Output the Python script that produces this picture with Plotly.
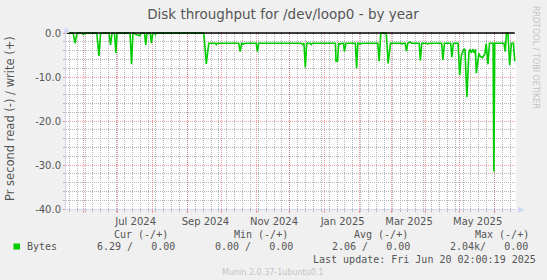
import plotly.graph_objects as go
import pandas as pd

# ---------------- data ----------------
title = "Disk throughput for /dev/loop0 - by year"
y_label = "Pr second read (-) / write (+)"

dates = [
    "2024-05-17", "2024-05-22 12:00", "2024-05-24", "2024-05-26", "2024-05-30",
    "2024-05-31 12:00", "2024-06-02", "2024-06-12 12:00", "2024-06-14 08:00", "2024-06-15 20:00",
    "2024-06-23 08:00", "2024-06-24 16:00", "2024-06-26", "2024-06-28 04:00", "2024-06-29 10:00",
    "2024-06-30 10:00", "2024-07-12", "2024-07-13 08:00", "2024-07-14 14:00", "2024-07-16",
    "2024-07-16 20:00", "2024-07-19 12:00", "2024-07-20 14:00", "2024-07-21 20:00", "2024-07-24 20:00",
    "2024-07-26", "2024-07-27", "2024-07-30", "2024-07-31", "2024-08-01 05:00",
    "2024-08-03", "2024-08-03 14:00", "2024-08-04 12:00", "2024-09-15 14:00", "2024-09-17 19:00",
    "2024-09-20", "2024-09-25 19:00", "2024-09-26 14:00", "2024-09-27 12:00", "2024-10-16 14:00",
    "2024-10-17 22:00", "2024-10-19 05:00", "2024-10-20 14:00", "2024-10-22", "2024-11-01 02:00",
    "2024-11-02 07:00", "2024-11-03 07:00", "2024-12-11", "2024-12-12 07:00", "2024-12-13 14:00",
    "2024-12-14 19:00", "2024-12-16 02:00", "2024-12-19 05:00", "2024-12-20 02:00", "2024-12-21 05:00",
    "2025-01-10 14:00", "2025-01-11 02:00", "2025-01-12 10:00", "2025-01-13 12:00", "2025-01-14 14:00",
    "2025-01-15 22:00", "2025-01-17 17:00", "2025-01-18 14:00", "2025-01-19 22:00", "2025-01-28 07:00",
    "2025-01-29 10:00", "2025-01-30 12:00", "2025-02-01 17:00", "2025-02-03", "2025-02-17 07:00",
    "2025-02-18 10:00", "2025-02-19 22:00", "2025-02-24 19:00", "2025-02-26 10:00", "2025-02-28 12:00",
    "2025-03-10", "2025-03-11", "2025-03-12", "2025-03-13 14:00", "2025-03-14 17:00",
    "2025-03-15 22:00", "2025-03-18", "2025-03-19 07:00", "2025-03-26", "2025-03-27 02:00",
    "2025-03-28 07:00", "2025-04-01 12:00", "2025-04-02 14:00", "2025-04-04", "2025-04-15",
    "2025-04-16 02:00", "2025-04-17 12:00", "2025-04-23", "2025-04-24 02:00", "2025-04-25 10:00",
    "2025-04-29 14:00", "2025-05-01", "2025-05-02 12:00", "2025-05-04 12:00", "2025-05-05 17:00",
    "2025-05-07 10:00", "2025-05-09 05:00", "2025-05-10 10:00", "2025-05-11 07:00", "2025-05-12 17:00",
    "2025-05-14", "2025-05-15", "2025-05-15 19:00", "2025-05-16 22:00", "2025-05-18 02:00",
    "2025-05-19 07:00", "2025-05-21 02:00", "2025-05-22 05:00", "2025-05-23 10:00", "2025-05-24 14:00",
    "2025-05-26 05:00", "2025-05-27 12:00", "2025-05-30 17:00", "2025-05-31 10:00", "2025-06-01 05:00",
    "2025-06-09 10:00", "2025-06-10 12:00", "2025-06-11 14:00", "2025-06-12 22:00", "2025-06-14 12:00",
    "2025-06-16", "2025-06-17 19:00", "2025-06-19",
]
read_vals = [
    0, 0, -2.3, 0, 0,
    -0.3, 0, 0, -5.2, 0,
    0, -2.7, 0, 0, -4.5,
    0, 0, -7.0, 0, 0,
    -0.3, -0.4, -0.6, 0, 0,
    -2.7, 0, 0, -2.3, 0,
    0, -0.3, 0, 0, -7.0,
    -2.3, -2.3, -2.6, -2.3, -2.3,
    -4.2, -2.3, -2.5, -2.3, -2.3,
    -4.2, -2.3, -2.3, -2.6, -2.3,
    -7.8, -2.3, -2.3, -2.6, -2.3,
    -2.3, -6.4, -6.4, -2.3, -2.5,
    -2.3, -2.3, -4.2, -2.3, -2.3,
    -8.0, -2.3, -2.5, -2.3, -2.3,
    -6.4, 0, 0, -6.9, -2.3,
    -2.3, -2.5, -2.3, -2.3, -4.1,
    -2.3, -2.0, -2.3, -2.3, -6.2,
    -2.3, -2.3, -2.5, -2.3, -2.3,
    -6.1, -2.3, -2.3, -5.5, -2.3,
    -2.3, -9.6, -5.1, -3.8, -3.6,
    -14.6, -4.3, -3.7, -4.5, -3.7,
    -4.5, -3.7, -9.1, -6.0, -4.6,
    -5.3, -5.6, -5.2, -4.8, -2.4,
    -7.1, -2.3, -2.3, -31.5, -2.3,
    -2.3, -4.2, 0, 0, -7.3,
    -2.3, -2.3, -6.4,
]
write_vals = [0.0 for _ in dates]

x_range = ["2024-05-16 02:00", "2025-06-20 02:00"]
x_label_months = ["Jul 2024", "Sep 2024", "Nov 2024", "Jan 2025", "Mar 2025", "May 2025"]
y_range = [-40, 0.25]
y_ticks = [0, -10, -20, -30, -40]
y_tick_text = [f"{v:.1f}" for v in y_ticks]

legend_name = "Bytes"
stat_headers = ["Cur (-/+)", "Min (-/+)", "Avg (-/+)", "Max (-/+)"]
stat_values = ["6.29 /   0.00", "0.00 /   0.00", "2.06 /   0.00", "2.04k/   0.00"]
last_update = "Last update: Fri Jun 20 02:00:19 2025"
footer = "Munin 2.0.37-1ubuntu0.1"
watermark = "RRDTOOL / TOBI OETIKER"

# ---------------- styling ----------------
GREEN = "#00CC00"
TXT = "#555555"
AXIS = "#CFD6F8"
MGRID = "rgba(222,79,79,0.55)"
GRID = "#b4b4b4"
FONT = "DejaVu Sans"
MONO = "DejaVu Sans Mono"

W, H = 547, 280
L, R, T, B = 66, 31, 32, 71
PW, PH = W - L - R, H - T - B


def px(x):
    return (x - L) / PW


def py(y):
    return (H - B - y) / PH


def nb(s):
    return s.replace(" ", "\u00a0")


month_ticks = pd.date_range("2024-06-01", "2025-06-01", freq="MS")
tickvals = [d.strftime("%Y-%m-%d") for d in month_ticks]
ticktext = [d.strftime("%b %Y") if d.strftime("%b %Y") in x_label_months else "" for d in month_ticks]

fig = go.Figure()
fig.add_trace(go.Scatter(x=dates, y=read_vals, mode="lines", name=legend_name,
                         line=dict(color=GREEN, width=1.6), showlegend=False))
fig.add_trace(go.Scatter(x=dates, y=write_vals, mode="lines", name="write", yaxis="y2",
                         line=dict(color="#000000", width=1.5), showlegend=False))

fig.update_layout(
    width=W, height=H,
    margin=dict(l=L, r=R, t=T, b=B, pad=0),
    paper_bgcolor="#F0F0F0", plot_bgcolor="#FFFFFF",
    font=dict(family=FONT, size=10, color=TXT),
    hovermode=False,
    title=dict(text=title, x=px(283), xref="paper", xanchor="center",
               y=1 - 14.5 / H, yref="container", yanchor="middle",
               font=dict(family=FONT, size=13.5, color=TXT)),
    xaxis=dict(
        type="date", range=x_range, tickmode="array", tickvals=tickvals, ticktext=ticktext,
        ticklabelshift=18, showgrid=True, gridcolor=MGRID, griddash="1px,1px", gridwidth=1,
        ticks="outside", ticklen=3, tickcolor=MGRID, showline=True, linecolor=AXIS, linewidth=1,
        zeroline=False, tickfont=dict(family=FONT, size=10, color=TXT),
        minor=dict(tickmode="linear", tick0="2024-05-19", dtick=7 * 86400000, showgrid=True,
                   gridcolor=GRID, griddash="1px,1px", gridwidth=1, ticks="outside", ticklen=2,
                   tickcolor=GRID),
    ),
    yaxis=dict(
        type="linear", range=y_range, tickmode="linear", tick0=0, dtick=10,
        showgrid=True, gridcolor=MGRID, gridwidth=1, griddash="1px,1px",
        ticks="outside", ticklen=2, tickcolor=MGRID, showline=True, linecolor=AXIS, linewidth=1,
        zeroline=False, showticklabels=False,
        minor=dict(tickmode="linear", tick0=0, dtick=2, showgrid=True, gridcolor=GRID,
                   gridwidth=1, griddash="1px,1px", ticks="outside", ticklen=2, tickcolor=GRID),
    ),
    yaxis2=dict(
        type="linear", overlaying="y", side="left", anchor="x", range=y_range, tickmode="array",
        tickvals=y_ticks, ticktext=y_tick_text, showgrid=False, zeroline=False, showline=False,
        ticks="", tickfont=dict(family=FONT, size=10, color=TXT), ticklabelstandoff=4,
    ),
)

ann = []
# y-axis title
ann.append(dict(text=y_label, x=px(10), y=py(119), textangle=-90, showarrow=False,
                xanchor="center", yanchor="middle", font=dict(family=FONT, size=11.5, color=TXT)))
# watermark
ann.append(dict(text=watermark, x=px(536), y=py(57), textangle=90, showarrow=False,
                xanchor="center", yanchor="middle", font=dict(family=FONT, size=8, color="#C4C4C4")))
# axis arrows
ann.append(dict(text="\u25B2", x=px(66.5), y=py(29), showarrow=False, xanchor="center",
                yanchor="middle", font=dict(family=FONT, size=8, color=AXIS)))
ann.append(dict(text="\u25B6", x=px(521), y=py(209), showarrow=False, xanchor="center",
                yanchor="middle", font=dict(family=FONT, size=8, color=AXIS)))
# legend headers
for txt, xl in zip(stat_headers, [111.5, 232, 352, 473]):
    ann.append(dict(text=nb(txt), x=px(xl), y=py(234), showarrow=False, xanchor="left",
                    yanchor="middle", font=dict(family=MONO, size=10, color=TXT)))
ann.append(dict(text=legend_name, x=px(25), y=py(246.5), showarrow=False, xanchor="left",
                yanchor="middle", font=dict(family=MONO, size=10, color=TXT)))
for txt, xl in zip(stat_values, [94.5, 212.5, 330, 447.5]):
    ann.append(dict(text=nb(txt), x=px(xl), y=py(246.5), showarrow=False, xanchor="left",
                    yanchor="middle", font=dict(family=MONO, size=10, color=TXT)))
ann.append(dict(text=nb(last_update), x=px(311), y=py(259.3), showarrow=False, xanchor="left",
                yanchor="middle", font=dict(family=MONO, size=10, color=TXT)))
ann.append(dict(text=footer, x=px(273), y=py(272.6), showarrow=False, xanchor="center",
                yanchor="middle", font=dict(family=FONT, size=8, color="#C4C4C4")))
for a in ann:
    a.setdefault("xref", "paper")
    a.setdefault("yref", "paper")
fig.update_layout(annotations=ann)

# legend colour box
fig.add_shape(type="rect", xref="paper", yref="paper", x0=px(13.5), x1=px(20), y0=py(243.5),
              y1=py(249.5), fillcolor=GREEN, line=dict(width=0))

fig.write_html("out.html", config={"displayModeBar": False})
